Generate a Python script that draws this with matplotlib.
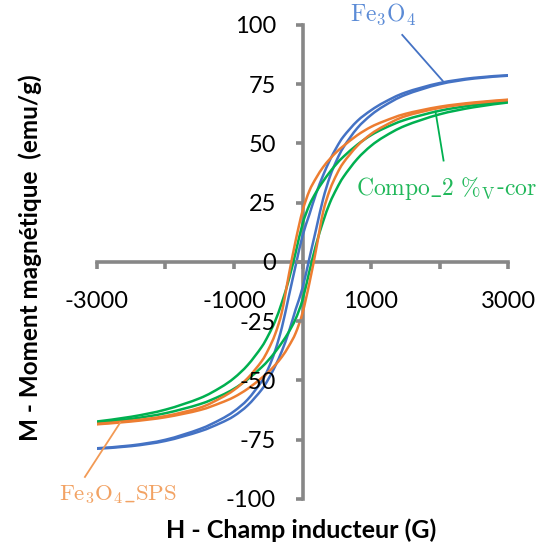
import numpy as np
import matplotlib.pyplot as plt
from matplotlib.path import Path
from matplotlib.patches import PathPatch

plt.rcParams['font.family'] = ['Lato', 'DejaVu Sans']
plt.rcParams['mathtext.fontset'] = 'cm'
plt.rcParams['axes.unicode_minus'] = False

# Champ H (G)
H = [-3000, -2500, -2000, -1500, -1200, -1000, -800, -600, -500, -400, -300, -200, -100,
     0, 100, 200, 300, 400, 500, 600, 800, 1000, 1200, 1500, 2000, 2500, 3000]

# Fe3O4 : branche descendante / montante
fe_desc = [-78.6, -77.4, -75, -70.5, -66.5, -63, -58, -50.5, -45, -37.5, -27.5, -14.5, -1.5,
           11, 20, 29, 36.5, 43, 48.5, 53, 59.5, 64, 67.5, 71.5, 75.5, 77.7, 78.8]
fe_asc = [-78.8, -77.7, -75.5, -71.5, -68, -65, -60.5, -54, -49.5, -44, -37.5, -29.5, -20,
          -11, 1.5, 14, 26.5, 36, 43, 48.5, 56.5, 62, 66, 70.5, 75, 77.4, 78.6]

# Fe3O4_SPS
sps_desc = [-68.3, -67, -65, -61.5, -57.5, -54, -49, -42, -37, -30.5, -21, -5.5, 9,
            21.5, 30, 35.5, 40, 43.5, 46.5, 49, 53.5, 57, 59.5, 62.5, 65.5, 67.3, 68.5]
sps_asc = [-68.5, -67.3, -65.5, -62.5, -59.5, -57, -53.5, -49, -46.5, -43.5, -40, -35.5, -30,
           -21.5, -9, 5.5, 21, 30.5, 37, 42, 49, 54, 57.5, 61.5, 65, 67, 68.3]

# Compo_2 %V-cor
comp_desc = [-67.3, -65.3, -62.3, -57.5, -53, -49, -43.5, -36, -31, -25, -17, -7.5, 4,
             16, 24, 29.5, 34, 38, 41.5, 44.5, 49.5, 53.5, 56.5, 60, 63.8, 66.2, 67.8]
comp_asc = [-67.8, -66.2, -63.8, -60, -56.5, -53.5, -49.5, -44.5, -41.5, -38, -34, -29.5, -24,
            -16, -4, 7.5, 17, 25, 31, 36, 43.5, 49, 53, 57.5, 62.3, 65.3, 67.3]

blue = '#4472C4'
orange = '#ED7D31'
green = '#00B050'
gris = '#878787'


def courbe_lissee(ax, x, y, color, lw=1.8):
    # trait lissé comme dans Excel (Catmull-Rom -> Bézier)
    p = np.column_stack([x, y]).astype(float)
    pts = [p[0]]
    codes = [Path.MOVETO]
    n = len(p)
    for i in range(n - 1):
        p0 = p[max(i - 1, 0)]
        p1, p2 = p[i], p[i + 1]
        p3 = p[min(i + 2, n - 1)]
        pts += [p1 + (p2 - p0) / 6, p2 - (p3 - p1) / 6, p2]
        codes += [Path.CURVE4] * 3
    ax.add_patch(PathPatch(Path(pts, codes), fill=False, edgecolor=color, lw=lw,
                           capstyle='round', joinstyle='round'))


fig = plt.figure(figsize=(5.43, 5.54), dpi=100)
ax = fig.add_axes([0.1786, 0.0993, 0.757, 0.8556])

courbe_lissee(ax, H, fe_desc, blue)
courbe_lissee(ax, H, fe_asc, blue)
courbe_lissee(ax, H, comp_desc, green)
courbe_lissee(ax, H, comp_asc, green)
courbe_lissee(ax, H, sps_desc, orange)
courbe_lissee(ax, H, sps_asc, orange)

ax.set_xlim(-3000, 3000)
ax.set_ylim(-100, 100)
ax.set_xticks([-3000, -1000, 1000, 3000])
ax.set_xticks([-2000, 0, 2000], minor=True)
ax.set_yticks(np.arange(-100, 101, 25))

ax.spines['left'].set_position(('data', 0))
ax.spines['bottom'].set_position(('data', 0))
ax.spines['top'].set_visible(False)
ax.spines['right'].set_visible(False)
for s in ['left', 'bottom']:
    ax.spines[s].set_color(gris)
    ax.spines[s].set_linewidth(2.6)
    ax.spines[s].set_zorder(0)

ax.tick_params(axis='both', which='both', direction='out', length=5, width=2.6,
               color=gris, labelsize=17, labelcolor='black')
ax.tick_params(axis='x', pad=16)
ax.tick_params(axis='y', pad=14)
ax.tick_params(axis='x', which='minor', labelbottom=False)

fig.text(0.055, 0.535, 'M - Moment magnétique  (emu/g)', rotation=90, fontsize=17.5,
         fontweight='bold', ha='center', va='center')
fig.text(0.555, 0.043, 'H - Champ inducteur (G)', fontsize=18, fontweight='bold',
         ha='center', va='center')

# étiquettes des courbes
ax.text(1176, 104.5, r'$\mathrm{Fe_3O_4}$', color='#5B8BD6', fontsize=17,
        ha='center', va='center')
ax.plot([1456, 2044], [95.8, 76.5], color=blue, lw=1.3, clip_on=False)

ax.text(2103, 31, r'$\mathrm{Compo\_2\ \%_V}$-$\mathrm{cor}$', color='#21B85A', fontsize=17,
        ha='center', va='center')
ax.plot([1941, 2059], [63.5, 42.8], color=green, lw=1.3, clip_on=False)

ax.text(-2691, -98.3, r'$\mathrm{Fe_3O_4\_SPS}$', color='#F2A263', fontsize=16.5,
        ha='center', va='center')
ax.plot([-2662, -3176], [-67.8, -90.7], color='#F29A55', lw=1.3, clip_on=False)

fig.savefig('out.png', dpi=100)
